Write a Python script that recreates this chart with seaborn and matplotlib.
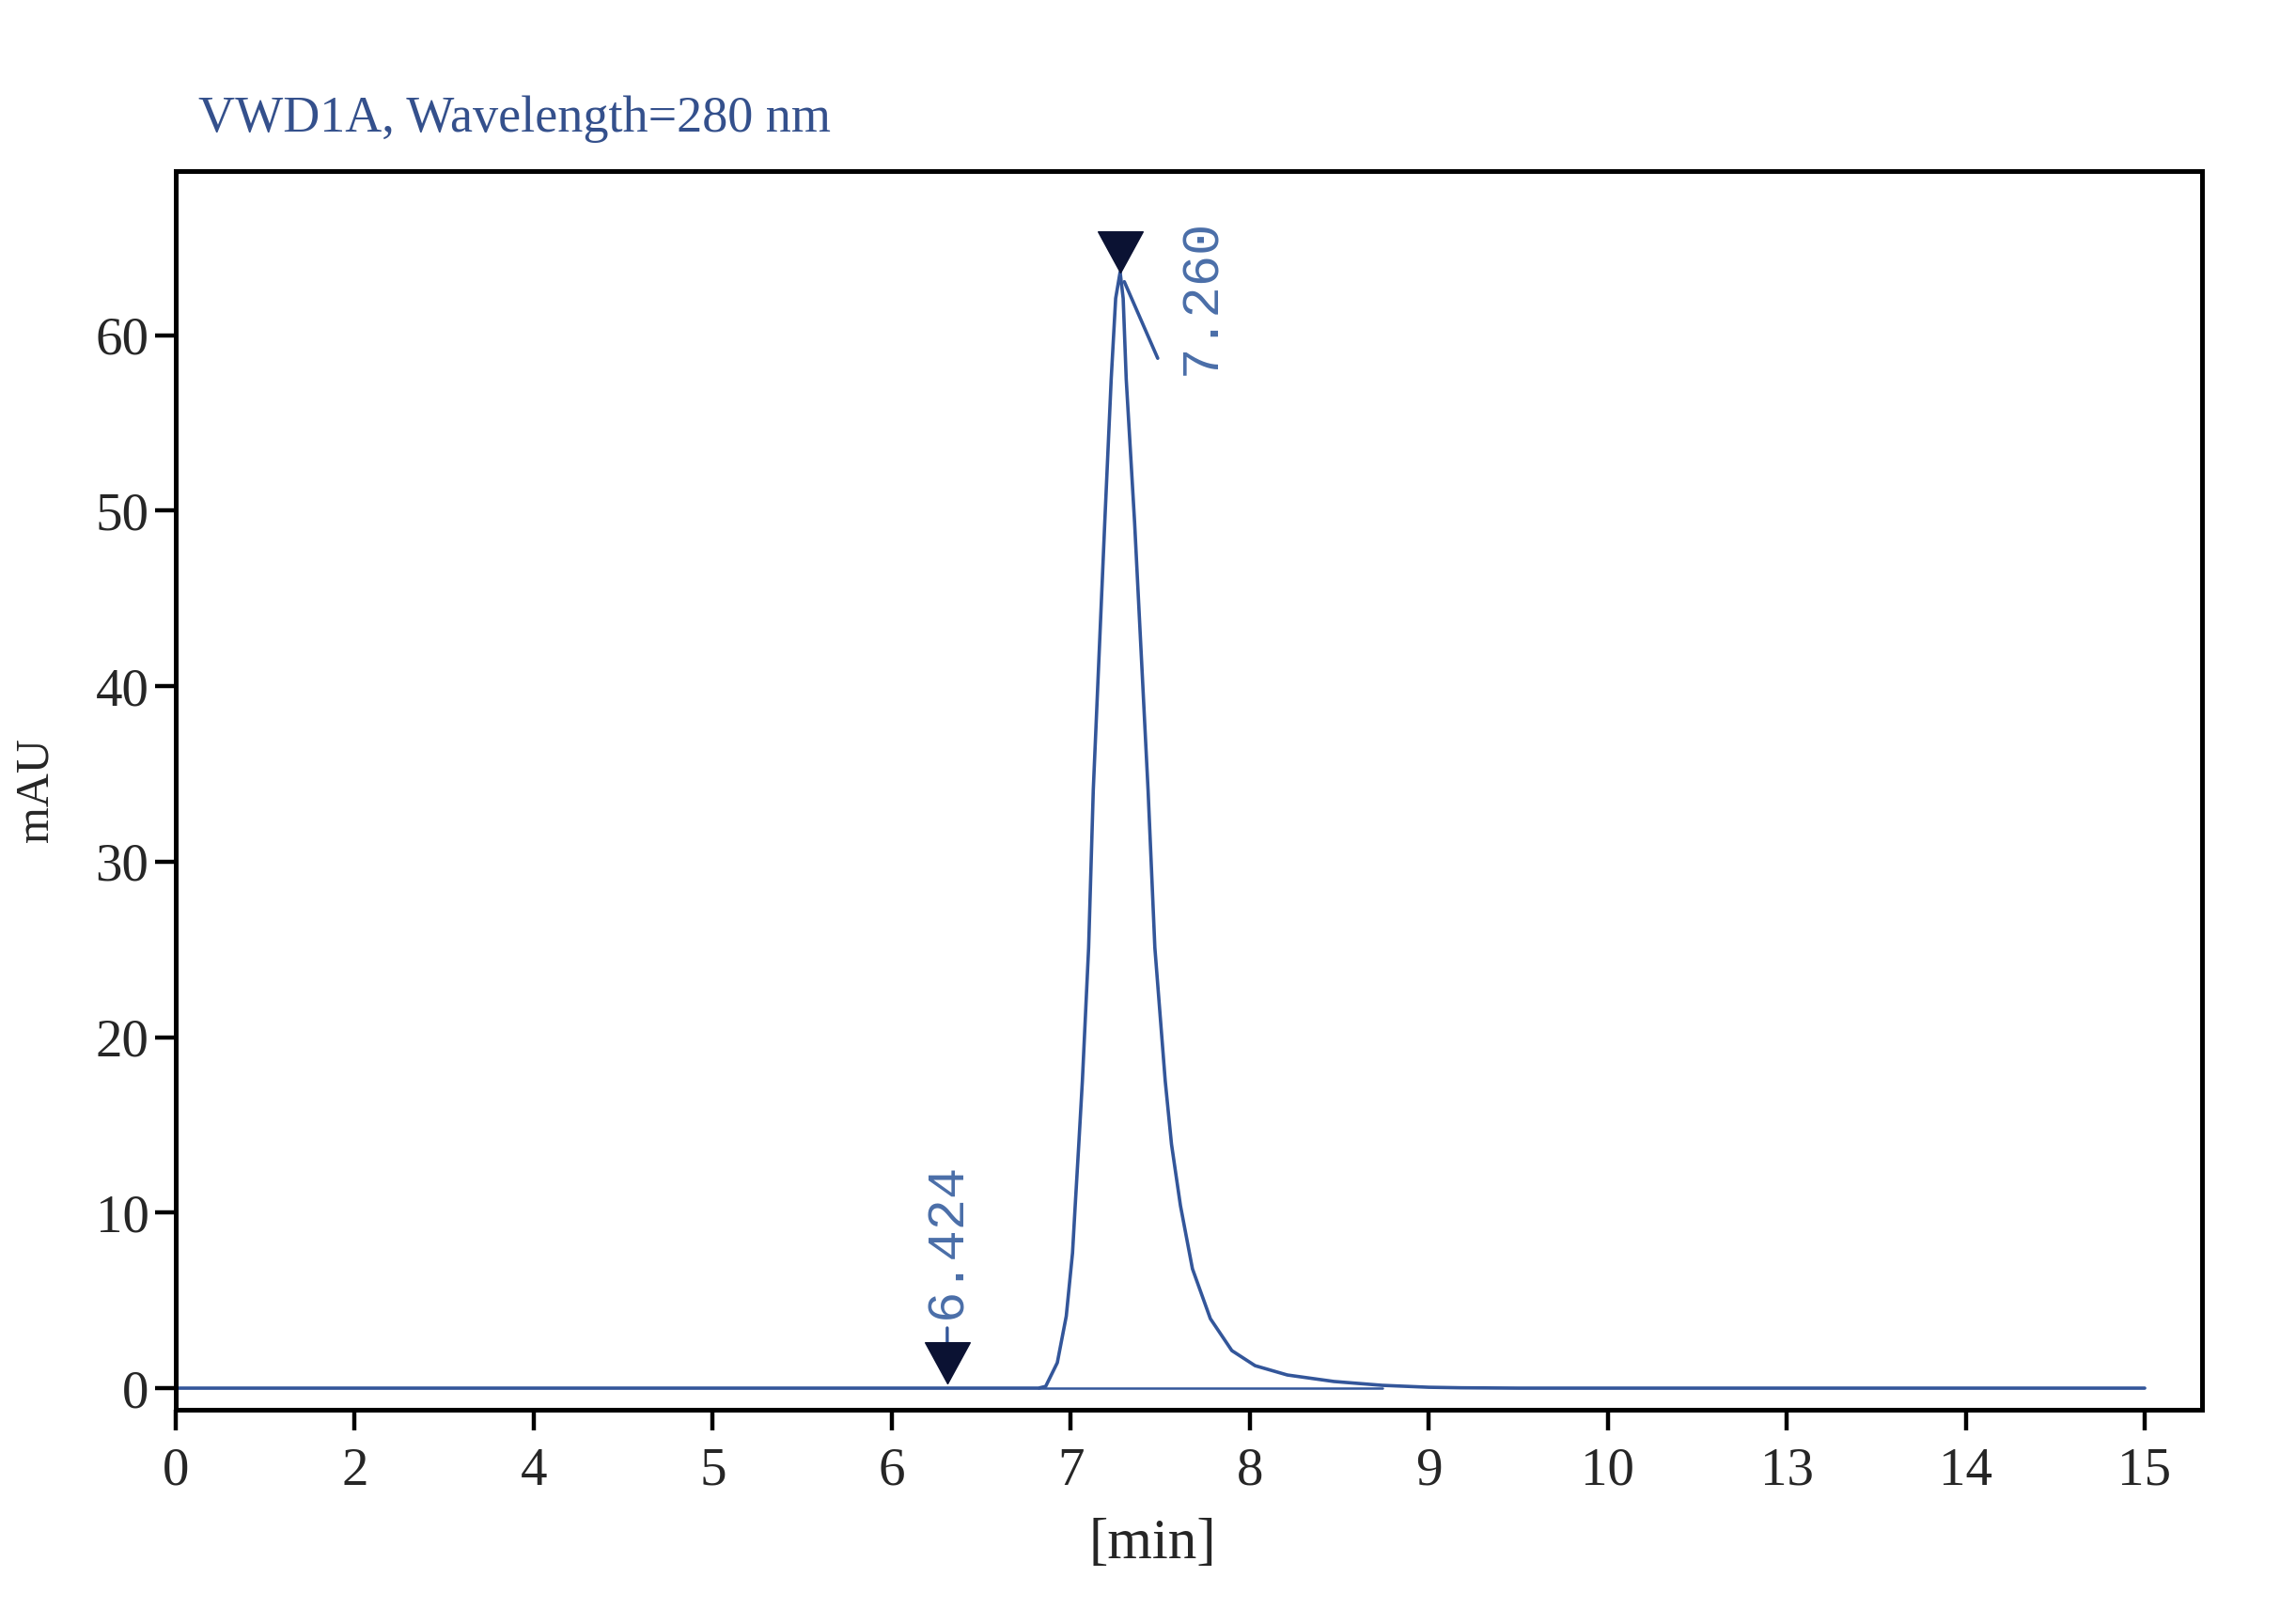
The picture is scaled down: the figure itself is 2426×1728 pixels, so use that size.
import matplotlib
matplotlib.use('Agg')
import matplotlib.pyplot as plt
import numpy as np
import pandas as pd
import seaborn as sns

# Tick values on the time axis (the axis is not linear, ticks are evenly spaced)
tick_minutes = [0, 2, 4, 5, 6, 7, 8, 9, 10, 13, 14, 15]
tick_labels = ['0', '2', '4', '5', '6', '7', '8', '9', '10', '13', '14', '15']
y_ticks = [0, 10, 20, 30, 40, 50, 60]

# Detector trace (minutes, mAU)
time_min = [0.0, 3.0, 6.0, 6.82, 6.86, 6.925, 6.975, 7.01, 7.025, 7.045,
            7.065, 7.10, 7.126, 7.19, 7.226, 7.251, 7.276, 7.293, 7.31,
            7.357, 7.432, 7.47, 7.528, 7.563, 7.613, 7.68, 7.78, 7.90,
            8.03, 8.21, 8.47, 8.74, 9.0, 9.18, 9.5, 12.0, 15.0]
signal_mau = [0.0, 0.0, 0.0, 0.0, 0.1, 1.45, 4.1, 7.7, 10.4, 13.9,
              17.5, 25.1, 34.1, 49.3, 57.5, 62.1, 63.6, 62.1, 57.5,
              49.3, 34.1, 25.1, 17.5, 13.9, 10.4, 6.8, 3.96, 2.14,
              1.28, 0.75, 0.38, 0.16, 0.05, 0.02, 0.0, 0.0, 0.0]

# Integration baseline under the peak
base_min = [6.82, 8.74]
base_mau = [0.0, 0.0]

# Peak markers and their labels
peak_min = [6.31, 7.276]
peak_mau = [0.27, 63.6]
peak_labels = ['6.424', '7.260']

line_color = '#33569a'
label_color = '#4a6ea8'
marker_color = '#0b1233'

sns.set_style('white')
plt.rcParams['font.family'] = ['Liberation Serif', 'DejaVu Serif']

fig = plt.figure(figsize=(24.26, 17.28), dpi=100)
ax = fig.add_axes([187 / 2426, 1 - 1500 / 1728, 2156 / 2426, 1318 / 1728])

tick_pos = np.arange(len(tick_minutes))


def to_pos(t):
    return np.interp(t, tick_minutes, tick_pos)


trace = pd.DataFrame({'pos': to_pos(time_min), 'mAU': signal_mau})
sns.lineplot(data=trace, x='pos', y='mAU', ax=ax, color=line_color,
             lw=2.6, estimator=None, sort=False)
ax.plot(to_pos(base_min), base_mau, color=line_color, lw=1.8)

# downward triangles with their tip on the peak
tri = [(0, 0), (-0.545, 1), (0.545, 1), (0, 0)]
ax.plot(to_pos(peak_min), peak_mau, linestyle='none', marker=tri,
        markersize=63, color=marker_color, zorder=5)

# label for the small start peak: short vertical leader and text above
x0, y0 = to_pos(peak_min[0]), peak_mau[0]
ax.annotate('', xy=(x0, y0), xytext=(0, 42.5), textcoords='offset points',
            arrowprops=dict(arrowstyle='-', color=line_color, lw=2.4,
                            shrinkA=0, shrinkB=30))
ax.annotate(peak_labels[0], xy=(x0, y0), xytext=(0, 49.7),
            textcoords='offset points', rotation=90, ha='center',
            va='bottom', family='Liberation Mono', size=40,
            color=label_color)

# label for the main peak: slanted leader to the right
x1, y1 = to_pos(peak_min[1]), peak_mau[1]
ax.annotate('', xy=(x1, y1), xytext=(28.8, -66), textcoords='offset points',
            arrowprops=dict(arrowstyle='-', color=line_color, lw=2.6,
                            shrinkA=0, shrinkB=8))
ax.annotate(peak_labels[1], xy=(x1, y1), xytext=(62.6, -79),
            textcoords='offset points', rotation=90, ha='center',
            va='bottom', family='Liberation Mono', size=40,
            color=label_color)

ax.set_xlim(0, 11.32)
ax.set_ylim(-1.23, 69.36)
ax.set_xticks(tick_pos)
ax.set_xticklabels(tick_labels)
ax.set_yticks(y_ticks)
ax.tick_params(axis='both', which='major', direction='out', length=15.5,
               width=3.2, color='black', labelsize=41,
               bottom=True, left=True, top=False, right=False)
ax.tick_params(axis='x', pad=13)
ax.tick_params(axis='y', pad=5)

for side in ['left', 'right', 'top', 'bottom']:
    ax.spines[side].set_visible(True)
    ax.spines[side].set_color('black')
    ax.spines[side].set_linewidth(3.6)

ax.set_xlabel('[min]', fontsize=44)
ax.xaxis.set_label_coords(0.482, -0.088)
ax.set_ylabel('mAU', fontsize=36)
ax.yaxis.set_label_coords(-0.058, 0.5)

fig.text(211 / 2426, 1 - 140 / 1728, 'VWD1A, Wavelength=280 nm',
         fontsize=39, color='#34508c', va='baseline', ha='left')

fig.savefig('out.png', dpi=100, facecolor='white')
